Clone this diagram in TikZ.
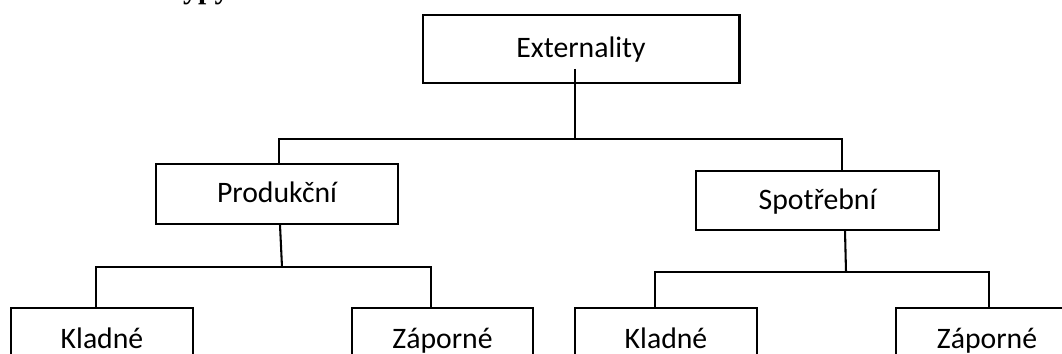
\documentclass[tikz,border=0pt]{standalone}
\usepackage{fontspec}
\setmainfont{Carlito}
\newfontfamily\headfont{Liberation Serif}
\usetikzlibrary{calc}

\tikzset{
  box/.style={draw, rectangle, line width=0.8pt, inner sep=0pt,
    text height=9.2pt, text depth=2.3pt, font=\fontsize{11.5}{13.5}\selectfont},
  leafbox/.style={box, minimum width=70.2pt, minimum height=24.7pt},
  link/.style={line width=0.8pt},
}

\begin{document}
\begin{tikzpicture}[x=0.0136cm, y=-0.0136cm]
  \clip (0,0) rectangle (1062,354);
  % heading, only its lower edge is on the page
  \node[anchor=base west, inner sep=0pt,
    font=\headfont\bfseries\fontsize{11.5}{13.5}\selectfont] (head) at (165,-1) {Typy};

  \node[box, minimum width=122.6pt, minimum height=26.2pt] (ext) at (581,49) {Externality};
  \node[box, minimum width=93.3pt, minimum height=23.1pt] (prod) at (277,194) {Produkční};
  \node[box, minimum width=93.7pt, minimum height=22.7pt] (spot) at (817.5,200.5) {Spotřební};
  \node[leafbox] (kl1) at (102,340) {Kladné};
  \node[leafbox] (za1) at (442.5,340) {Záporné};
  \node[leafbox] (kl2) at (666,340) {Kladné};
  \node[leafbox] (za2) at (987,340) {Záporné};

  \coordinate (topbus) at (575,139);
  \coordinate (prodbus) at (282,267);
  \coordinate (spotbus) at (846,272);

  \draw[link] ($(ext.south)+(-6,-15)$) -- (topbus);
  \draw[link] ($(prod.north)+(2,0)$) |- (topbus) -| ($(spot.north)+(24.5,0)$);

  \draw[link] ($(prod.south)+(3,0)$) -- (prodbus);
  \draw[link] ($(kl1.north)+(-6,0)$) |- (prodbus) -| ($(za1.north)+(-11.5,0)$);

  \draw[link] ($(spot.south)+(27.5,0)$) -- (spotbus);
  \draw[link] ($(kl2.north)+(-11,0)$) |- (spotbus) -| ($(za2.north)+(2,0)$);
\end{tikzpicture}
\end{document}
